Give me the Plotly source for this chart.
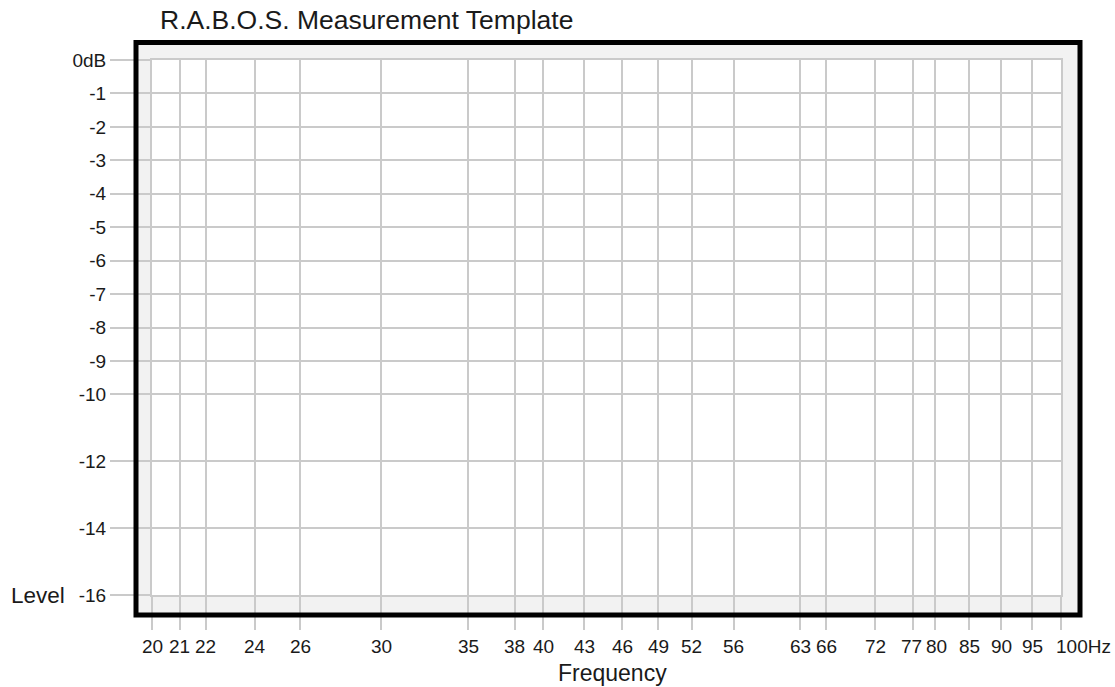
import plotly.graph_objects as go
import numpy as np

# tick values / labels
freq_ticks = [20, 21, 22, 24, 26, 30, 35, 38, 40, 43, 46, 49, 52, 56,
              63, 66, 72, 77, 80, 85, 90, 95, 100]
freq_labels = [str(f) for f in freq_ticks[:-1]] + ["100Hz"]

level_ticks = [0, -1, -2, -3, -4, -5, -6, -7, -8, -9, -10, -12, -14, -16]
level_labels = ["0dB"] + [str(v) for v in level_ticks[1:]]

title_text = "R.A.B.O.S. Measurement Template"

grid_color = "#cacaca"
text_color = "#1a1a1a"
font_fam = "Liberation Sans, Arial, sans-serif"

# small horizontal nudges (px) the template uses to keep labels apart
label_nudge = {77: -2, 80: 2, 100: 22}

W, H = 1115, 687
left, right, top, bottom = 152, 1061, 60, 595  # plot area in px

fig = go.Figure()
fig.add_trace(go.Scatter(x=[], y=[], mode="lines", showlegend=False))

fig.update_layout(
    width=W, height=H,
    margin=dict(l=left, r=W - right, t=top, b=H - bottom),
    paper_bgcolor="white",
    plot_bgcolor="white",
    showlegend=False,
    font=dict(family=font_fam, color=text_color, size=19),
    title=dict(text=title_text, x=160 / W, xanchor="left",
               y=1 - 20 / H, yanchor="middle",
               font=dict(size=26.5, color=text_color, family=font_fam)),
)

fig.update_xaxes(
    type="log",
    range=[np.log10(freq_ticks[0]), np.log10(freq_ticks[-1])],
    tickmode="array", tickvals=freq_ticks,
    showticklabels=False,
    showgrid=True, gridcolor=grid_color, gridwidth=2,
    showline=True, linecolor=grid_color, linewidth=2, mirror=True,
    ticks="outside", ticklen=33, tickwidth=2, tickcolor=grid_color,
    zeroline=False, fixedrange=True,
)
fig.update_yaxes(
    range=[level_ticks[-1], level_ticks[0]],
    tickmode="array", tickvals=level_ticks, ticktext=level_labels,
    showgrid=True, gridcolor=grid_color, gridwidth=2,
    showline=True, linecolor=grid_color, linewidth=2, mirror=True,
    ticks="outside", ticklen=40, tickwidth=2, tickcolor=grid_color,
    tickfont=dict(size=19, color=text_color),
    zeroline=False, fixedrange=True,
)

pw, ph = right - left, bottom - top
def px_x(p):
    return (p - left) / pw
def px_y(p):
    return (bottom - p) / ph

# frequency tick labels (annotations so close pairs can be nudged apart)
for f, lab in zip(freq_ticks, freq_labels):
    fig.add_annotation(text=lab, xref="x", yref="paper",
                       x=np.log10(f), y=px_y(646),
                       xanchor="center", yanchor="middle",
                       xshift=label_nudge.get(f, 0),
                       showarrow=False, font=dict(size=19, color=text_color))

# light grey frame band
fig.add_shape(type="rect", xref="paper", yref="paper",
              x0=px_x(136), x1=px_x(1080), y0=px_y(615), y1=px_y(42.5),
              fillcolor="#f2f2f2", line=dict(width=0), layer="below")
# white measuring area
fig.add_shape(type="rect", xref="paper", yref="paper",
              x0=0, x1=1, y0=0, y1=1,
              fillcolor="white", line=dict(width=0), layer="below")
# thick black border
fig.add_shape(type="rect", xref="paper", yref="paper",
              x0=px_x(136), x1=px_x(1080), y0=px_y(615), y1=px_y(42.5),
              fillcolor="rgba(0,0,0,0)", line=dict(color="black", width=5),
              layer="above")

# axis titles
fig.add_annotation(text="Frequency", xref="paper", yref="paper",
                   x=px_x(612), y=px_y(673), xanchor="center", yanchor="middle",
                   showarrow=False, font=dict(size=23, color=text_color))
fig.add_annotation(text="Level", xref="paper", yref="y",
                   x=px_x(9), y=level_ticks[-1], xanchor="left", yanchor="middle",
                   showarrow=False, font=dict(size=22.5, color=text_color))

# page has a default 8px body margin; drop it so the figure sits at 0,0
fig.write_html("out.html", config={"displayModeBar": False},
               post_script="document.body.style.margin='0px';")
